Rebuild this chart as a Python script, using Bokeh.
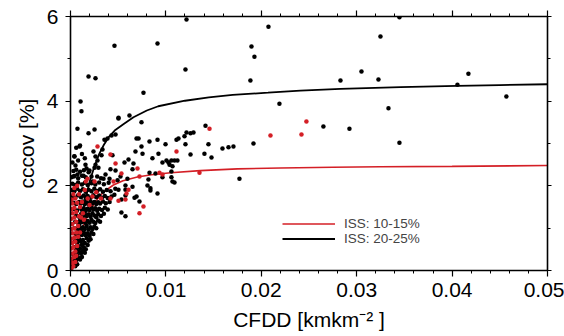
from bokeh.plotting import figure
from bokeh.models import (Range1d, LinearAxis, SingleIntervalTicker, NumeralTickFormatter,
                          Legend, LegendItem, ColumnDataSource)
from bokeh.embed import file_html
from bokeh.resources import INLINE

# ---- data ----
# fitted curves: (CFDD, cccov)
curve_black_x = [0, 0.0005, 0.001, 0.0015, 0.002, 0.0025, 0.003, 0.0035, 0.004, 0.0047, 0.0055,
                 0.0066, 0.008, 0.0092, 0.012, 0.0145, 0.017, 0.0207, 0.0241, 0.0283, 0.0346,
                 0.0405, 0.045, 0.05]
curve_black_y = [0, 0.5, 1.05, 1.6, 2.1, 2.45, 2.75, 2.97, 3.15, 3.32, 3.45,
                 3.62, 3.78, 3.88, 4.01, 4.09, 4.15, 4.20, 4.25, 4.29, 4.33,
                 4.36, 4.38, 4.40]
curve_red_x = [0, 0.0005, 0.001, 0.0015, 0.002, 0.0025, 0.003, 0.0035, 0.0045, 0.0055, 0.007,
               0.0085, 0.0105, 0.0136, 0.0175, 0.022, 0.0275, 0.0325, 0.04, 0.05]
curve_red_y = [0, 0.42, 0.82, 1.15, 1.40, 1.58, 1.74, 1.86, 2.02, 2.12, 2.21,
               2.26, 2.31, 2.36, 2.40, 2.42, 2.44, 2.45, 2.46, 2.48]

# ISS 20-25% observations (black): scattered points
black_scatter = [
    (0.01216, 5.93), (0.00461, 5.31), (0.00912, 5.36), (0.00189, 4.58), (0.00262, 4.54),
    (0.01205, 4.75), (0.00105, 3.99), (0.00115, 3.76), (0.00765, 4.20), (0.00073, 3.35),
    (0.00252, 3.33), (0.00189, 3.24), (0.00503, 3.59), (0.00618, 3.66), (0.00744, 3.50),
    (0.00094, 2.93), (0.00356, 3.09), (0.00388, 3.12), (0.00430, 3.19), (0.00472, 3.21),
    (0.00692, 3.12), (0.00713, 3.12), (0.00744, 2.93), (0.00828, 3.05), (0.00912, 3.09),
    (0.00996, 2.98), (0.01111, 3.09), (0.01132, 3.12), (0.01195, 3.17), (0.01205, 2.98),
    (0.01216, 3.26), (0.01258, 3.24), (0.01289, 3.26), (0.02075, 5.76), (0.01897, 5.29),
    (0.01928, 5.05), (0.01886, 4.49), (0.03249, 5.53), (0.03050, 4.70), (0.03228, 4.51),
    (0.02830, 4.49), (0.02190, 3.94), (0.03333, 3.83), (0.01415, 3.42), (0.02651, 3.40),
    (0.02924, 3.35), (0.01446, 2.98), (0.01593, 2.88), (0.01656, 2.91), (0.01708, 2.93),
    (0.01918, 3.00), (0.03448, 3.02), (0.01404, 2.76), (0.01478, 2.67), (0.01771, 2.17),
    (0.03448, 5.98), (0.04056, 4.39), (0.04171, 4.65), (0.04569, 4.11),
    (0.00503, 3.61), (0.00681, 2.81), (0.00755, 2.76), (0.00922, 2.76), (0.01258, 2.74),
    (0.00859, 2.65), (0.00566, 2.55), (0.00608, 2.62), (0.00660, 2.53), (0.00964, 2.55),
    (0.01006, 2.60), (0.01027, 2.55), (0.01058, 2.60), (0.01090, 2.60), (0.01121, 2.60),
    (0.01038, 2.50), (0.01069, 2.46), (0.00650, 2.39), (0.00828, 2.31), (0.00891, 2.29),
    (0.01058, 2.34), (0.00597, 2.17), (0.00817, 2.15), (0.00964, 2.20), (0.01058, 2.20),
    (0.01069, 2.10), (0.01090, 2.08), (0.00576, 2.01), (0.00650, 1.98), (0.00838, 1.94),
    (0.00503, 1.91), (0.00576, 1.91), (0.00576, 1.77), (0.00534, 1.68), (0.00807, 2.01),
    (0.00838, 1.89), (0.00912, 1.82), (0.00671, 1.72), (0.00692, 1.75), (0.00723, 1.63),
    (0.00534, 1.37), (0.00576, 1.28),
    (0.00042, 2.69), (0.00052, 2.48), (0.00157, 2.50), (0.00241, 2.81), (0.00262, 2.69),
    (0.00283, 2.60), (0.00262, 2.50), (0.00252, 2.43), (0.00168, 2.41), (0.00199, 2.36),
    (0.00073, 2.27), (0.00031, 2.22), (0.00136, 2.24), (0.00220, 2.22), (0.00231, 2.10),
    (0.00346, 2.17), (0.00367, 2.27), (0.00409, 2.17), (0.00524, 2.22), (0.00493, 2.13),
    (0.00472, 2.36), (0.00419, 2.39), (0.00440, 2.72), (0.00325, 2.72), (0.00335, 2.86),
    (0.00293, 2.43),
]

# ISS 20-25% observations (black): dense cluster near the origin
black_cluster = [
    (0.0001, 0.08), (0.0003, 0.12), (0.0005, 0.10), (0.0007, 0.15),
    (0.0002, 0.22), (0.0004, 0.28), (0.0006, 0.24), (0.0008, 0.30), (0.0010, 0.26), (0.0012, 0.32),
    (0.0003, 0.38), (0.0005, 0.42), (0.0007, 0.36), (0.0009, 0.44), (0.0011, 0.40), (0.0013, 0.46),
    (0.0015, 0.42),
    (0.0004, 0.55), (0.0006, 0.50), (0.0008, 0.58), (0.0010, 0.52), (0.0012, 0.60), (0.0014, 0.55),
    (0.0016, 0.50), (0.0018, 0.60),
    (0.0005, 0.70), (0.0007, 0.66), (0.0009, 0.74), (0.0011, 0.68), (0.0013, 0.72), (0.0015, 0.65),
    (0.0017, 0.76), (0.0019, 0.70), (0.0021, 0.74),
    (0.0006, 0.85), (0.0008, 0.82), (0.0010, 0.88), (0.0012, 0.84), (0.0014, 0.90), (0.0016, 0.83),
    (0.0018, 0.88), (0.0020, 0.82), (0.0022, 0.90), (0.0024, 0.86),
    (0.0004, 1.00), (0.0007, 0.98), (0.0009, 1.03), (0.0011, 0.96), (0.0013, 1.02), (0.0015, 0.98),
    (0.0017, 1.05), (0.0019, 0.97), (0.0021, 1.02), (0.0023, 0.98), (0.0025, 1.04), (0.0027, 1.00),
    (0.0005, 1.15), (0.0008, 1.12), (0.0010, 1.18), (0.0012, 1.14), (0.0014, 1.20), (0.0016, 1.12),
    (0.0018, 1.17), (0.0020, 1.13), (0.0022, 1.19), (0.0024, 1.15), (0.0026, 1.12), (0.0029, 1.18),
    (0.0031, 1.15),
    (0.0006, 1.30), (0.0009, 1.27), (0.0011, 1.33), (0.0013, 1.28), (0.0015, 1.34), (0.0017, 1.29),
    (0.0019, 1.32), (0.0021, 1.27), (0.0023, 1.35), (0.0025, 1.30), (0.0027, 1.26), (0.0029, 1.33),
    (0.0032, 1.29), (0.0035, 1.34),
    (0.0004, 1.45), (0.0007, 1.42), (0.0010, 1.48), (0.0012, 1.43), (0.0014, 1.47), (0.0016, 1.41),
    (0.0018, 1.46), (0.0020, 1.43), (0.0022, 1.49), (0.0024, 1.44), (0.0026, 1.47), (0.0028, 1.41),
    (0.0030, 1.46), (0.0033, 1.43), (0.0036, 1.48), (0.0039, 1.44),
    (0.0003, 1.60), (0.0006, 1.57), (0.0009, 1.62), (0.0011, 1.58), (0.0013, 1.63), (0.0015, 1.57),
    (0.0017, 1.61), (0.0019, 1.56), (0.0021, 1.63), (0.0023, 1.59), (0.0025, 1.62), (0.0027, 1.57),
    (0.0029, 1.61), (0.0031, 1.58), (0.0034, 1.63), (0.0037, 1.59), (0.0041, 1.62),
    (0.0002, 1.75), (0.0005, 1.72), (0.0008, 1.78), (0.0011, 1.73), (0.0014, 1.77), (0.0016, 1.71),
    (0.0018, 1.76), (0.0021, 1.72), (0.0024, 1.78), (0.0027, 1.73), (0.0030, 1.77), (0.0033, 1.72),
    (0.0036, 1.76), (0.0039, 1.71), (0.0043, 1.75), (0.0046, 1.79),
    (0.0001, 1.90), (0.0004, 1.87), (0.0007, 1.93), (0.0010, 1.88), (0.0013, 1.92), (0.0016, 1.86),
    (0.0019, 1.91), (0.0022, 1.87), (0.0025, 1.93), (0.0028, 1.88), (0.0031, 1.92), (0.0034, 1.86),
    (0.0038, 1.90), (0.0042, 1.87), (0.0047, 1.93),
    (0.0002, 2.05), (0.0005, 2.02), (0.0008, 2.08), (0.0012, 2.03), (0.0015, 2.07), (0.0018, 2.02),
    (0.0022, 2.06), (0.0026, 2.03), (0.0030, 2.08), (0.0035, 2.04), (0.0040, 2.07),
    (0.0001, 2.20), (0.0004, 2.23), (0.0008, 2.18), (0.0012, 2.24), (0.0016, 2.20), (0.0028, 2.22),
    (0.0032, 2.18),
    (0.0003, 2.35), (0.0006, 2.38), (0.0010, 2.33), (0.0014, 2.37), (0.0019, 2.32),
    (0.0002, 2.55), (0.0008, 2.60), (0.0012, 2.75), (0.0006, 2.90), (0.0015, 2.65), (0.0004, 2.70),
    (0.0010, 2.95),
]

# ISS 10-15% observations (red)
red_scatter = [
    (0.00283, 2.93), (0.01457, 3.35), (0.02473, 3.52), (0.02096, 3.19), (0.02421, 3.21),
    (0.01111, 2.81), (0.00702, 2.41), (0.00933, 2.31), (0.00534, 2.29), (0.00964, 2.27),
    (0.00723, 2.22), (0.01352, 2.31), (0.00587, 1.82), (0.00576, 1.68), (0.00503, 1.65),
    (0.00765, 1.51), (0.00723, 1.35), (0.00178, 2.17), (0.00252, 2.10), (0.00451, 2.10),
    (0.00419, 2.74), (0.00472, 2.53), (0.00419, 1.70), (0.00608, 1.91),
    (0.0012, 1.62), (0.0015, 1.90), (0.0018, 1.70), (0.0011, 1.25), (0.0014, 1.20),
    (0.0009, 1.80), (0.0020, 1.55), (0.0023, 1.75), (0.0027, 1.85), (0.0032, 1.70),
    (0.0007, 2.00), (0.0016, 2.10), (0.0010, 0.90), (0.0013, 1.35), (0.0004, 1.95),
]
red_cluster = [
    (0.0001, 0.05), (0.0003, 0.10), (0.0002, 0.18), (0.0005, 0.20), (0.0001, 0.28),
    (0.0004, 0.32), (0.0006, 0.35), (0.0002, 0.40), (0.0005, 0.45), (0.0001, 0.52),
    (0.0003, 0.55), (0.0007, 0.58), (0.0002, 0.65), (0.0005, 0.68), (0.0001, 0.75),
    (0.0004, 0.78), (0.0008, 0.80), (0.0002, 0.88), (0.0006, 0.90), (0.0001, 0.98),
    (0.0004, 1.00), (0.0008, 1.05), (0.0002, 1.10), (0.0006, 1.15), (0.0001, 1.22),
    (0.0004, 1.25), (0.0009, 1.28), (0.0002, 1.35), (0.0006, 1.38), (0.0001, 1.45),
    (0.0004, 1.48), (0.0010, 1.50), (0.0002, 1.58), (0.0007, 1.60), (0.0001, 1.68),
    (0.0005, 1.70), (0.0003, 1.80),
]

x_ticks_interval = 0.01
y_ticks_interval = 2
legend_labels = ["ISS: 10-15%", "ISS: 20-25%"]
x_title = "CFDD [kmkm\u207b\u00b2 ]"
y_title = "cccov [%]"

RED = "#d41f26"
BLACK = "#000000"
FONT = "Liberation Sans"

p = figure(width=564, height=336, output_backend="svg", toolbar_location=None,
           x_range=Range1d(0, 0.05), y_range=Range1d(0, 6),
           min_border_left=70, min_border_right=17, min_border_top=16, min_border_bottom=66,
           x_axis_location=None, y_axis_location=None)
p.grid.visible = False
p.outline_line_color = None
p.background_fill_color = "white"
p.border_fill_color = "white"


def make_axis(interval, minor, show_labels, fmt=None):
    ticker = SingleIntervalTicker(interval=interval, num_minor_ticks=minor)
    ax = LinearAxis(ticker=ticker)
    ax.axis_line_width = 1.6
    ax.axis_line_color = "black"
    ax.major_tick_line_color = "black"
    ax.minor_tick_line_color = "black"
    ax.major_tick_line_width = 1.2
    ax.minor_tick_line_width = 1
    ax.major_tick_out = 6
    ax.major_tick_in = 0
    ax.minor_tick_out = 3
    ax.minor_tick_in = 0
    ax.major_label_text_font = FONT
    ax.major_label_text_font_size = "21px"
    ax.major_label_text_color = "black"
    ax.axis_label_text_font = FONT
    ax.axis_label_text_font_style = "normal"
    ax.axis_label_text_font_size = "21px"
    ax.axis_label_text_color = "black"
    if fmt:
        ax.formatter = NumeralTickFormatter(format=fmt)
    if not show_labels:
        ax.major_label_text_font_size = "0px"
        ax.major_label_text_alpha = 0
    return ax


xb = make_axis(x_ticks_interval, 5, True, "0.00")
xb.major_label_standoff = 6
xb.axis_label = x_title
xb.axis_label_standoff = 8
p.add_layout(xb, "below")
xt = make_axis(x_ticks_interval, 5, False)
p.add_layout(xt, "above")
yl = make_axis(y_ticks_interval, 2, True, "0")
yl.major_tick_out = 5
yl.major_label_standoff = 7
yl.axis_label = y_title
yl.axis_label_standoff = 6
p.add_layout(yl, "left")
yr = make_axis(y_ticks_interval, 2, False)
yr.major_tick_out = 4
p.add_layout(yr, "right")

# curves
r_red = p.line(curve_red_x, curve_red_y, line_color=RED, line_width=1.6)
r_black = p.line(curve_black_x, curve_black_y, line_color=BLACK, line_width=1.8)

# observations
black_pts = black_scatter + black_cluster
red_pts = red_scatter + red_cluster
bsrc = ColumnDataSource(dict(x=[a for a, b in black_pts], y=[b for a, b in black_pts]))
rsrc = ColumnDataSource(dict(x=[a for a, b in red_pts], y=[b for a, b in red_pts]))
p.scatter("x", "y", source=bsrc, size=4.5, fill_color=BLACK, line_color=None)
p.scatter("x", "y", source=rsrc, size=4.5, fill_color=RED, line_color=None)

legend = Legend(items=[LegendItem(label=legend_labels[0], renderers=[r_red]),
                       LegendItem(label=legend_labels[1], renderers=[r_black])],
                location=(212, 24), orientation="vertical",
                label_text_font=FONT, label_text_font_size="13.5px",
                label_height=15, glyph_height=15, glyph_width=53, label_standoff=9,
                spacing=0, padding=0, margin=0,
                border_line_color=None, background_fill_alpha=0)
p.add_layout(legend, "center")

open("out.html", "w").write(file_html(p, INLINE))
